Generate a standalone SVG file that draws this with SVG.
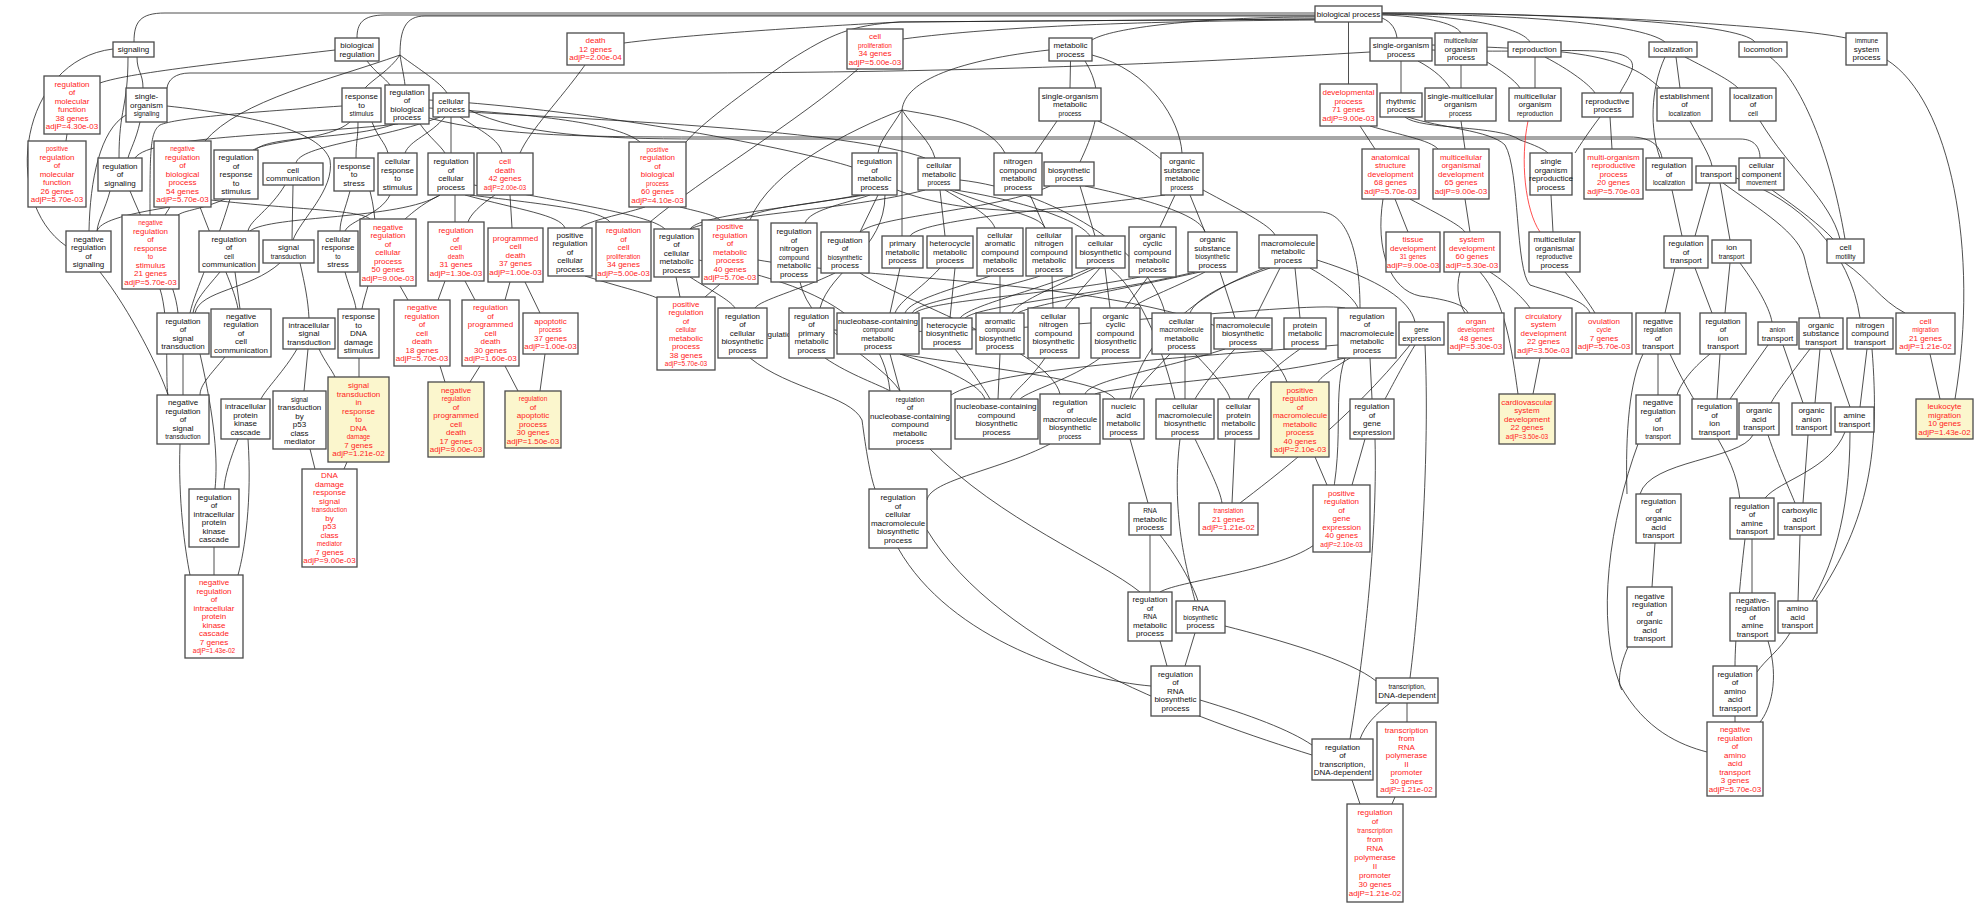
<svg xmlns="http://www.w3.org/2000/svg" width="1978" height="903" viewBox="0 0 1978 903">
<style>
.n rect{fill:#fff;stroke:#4a4a4a;stroke-width:1.3}
.y rect{fill:#fbf6cd}
text{font-family:"Liberation Sans",Arial,sans-serif;font-size:8px;text-anchor:middle;fill:#111}
.r text{fill:#f22}
.s{font-size:6.5px}
#edges path{fill:none;stroke:#222;stroke-width:0.8}
#edges path.red{stroke:#f22}
</style>
<rect width="1978" height="903" fill="#fff"/>
<text x="778" y="337">regulation</text>
<g id="edges">
<path d="M1315,13L165,13C140,13 134,22 134,42"/>
<path d="M1315,15L385,15C362,15 357,24 357,38"/>
<path d="M1315,16L425,16C405,16 400,30 400,55"/>
<path d="M400,55C390,70 372,80 365,88"/>
<path d="M400,55C402,68 404,76 405,85"/>
<path d="M400,55C420,70 440,82 447,93"/>
<path d="M400,55C330,80 240,100 205,141"/>
<path d="M1315,19L900,22C860,24 700,33 624,43"/>
<path d="M1315,20C1150,21 1000,26 903,39"/>
<path d="M1315,19L900,22C850,25 830,35 790,60C740,95 700,125 686,142"/>
<path d="M1315,17C1200,17 1110,28 1092,40"/>
<path d="M1370,52C1200,62 1000,72 700,73L190,73C175,73 168,80 167,88"/>
<path d="M1382,18C1392,22 1396,30 1397,38"/>
<path d="M1382,15C1420,16 1455,22 1461,33"/>
<path d="M1382,14C1450,15 1520,25 1530,42"/>
<path d="M1382,14C1500,14 1640,22 1665,42"/>
<path d="M1382,13C1550,13 1740,22 1755,42"/>
<path d="M1382,13C1600,13 1800,28 1846,38"/>
<path d="M1348.5,22L1348.5,84"/>
<path d="M1432,50C1560,55 1640,40 1632,70C1628,80 1622,88 1620,93"/>
<path d="M1432,45C1560,50 1620,50 1660,88"/>
<path d="M137,57C137,72 143,73 143,88"/>
<path d="M128,57C128,108 119,108 119,158"/>
<path d="M113,49C20,60 0,200 66,246"/>
<path d="M335,50C250,60 130,72 100,83"/>
<path d="M367,61C375,72 385,78 390,85"/>
<path d="M167,106C250,115 320,130 330,160C335,190 300,220 293,240"/>
<path d="M126,115C100,130 90,180 89,231"/>
<path d="M140,122C136,140 130,150 128,158"/>
<path d="M67,134L66,141"/>
<path d="M110,191C105,210 98,220 97,231"/>
<path d="M130,191C150,240 175,280 178,313"/>
<path d="M350,122C330,140 270,140 253,150"/>
<path d="M358,122C358,140 356,140 356,158"/>
<path d="M372,122C378,138 385,142 388,153"/>
<path d="M342,106C250,112 175,118 160,125C150,132 150,150 150,215"/>
<path d="M420,124C430,138 440,145 445,153"/>
<path d="M395,124C350,140 270,135 255,150"/>
<path d="M398,124C300,135 150,135 135,158"/>
<path d="M429,108C550,115 620,125 640,142"/>
<path d="M429,100C600,110 800,150 852,167"/>
<path d="M429,118C500,137 600,137 700,137L1630,137C1650,137 1660,145 1662,158"/>
<path d="M469,110C520,135 600,139 700,139L1740,139C1755,139 1760,148 1760,158"/>
<path d="M440,117C380,140 300,145 296,163"/>
<path d="M445,117C430,135 410,140 405,153"/>
<path d="M451,117L451,153"/>
<path d="M460,117C480,130 500,140 502,153"/>
<path d="M469,112C600,120 850,130 925,158"/>
<path d="M285,185C270,210 250,220 248,231"/>
<path d="M293,185L292,240"/>
<path d="M350,191C345,210 340,220 340,231"/>
<path d="M370,191C385,250 365,290 362,309"/>
<path d="M390,195C380,215 350,220 345,231"/>
<path d="M440,195C400,220 270,215 250,231"/>
<path d="M440,195C420,205 410,215 405,219"/>
<path d="M455,195L455,222"/>
<path d="M465,195C520,210 560,215 565,228"/>
<path d="M470,195C550,205 600,210 610,222"/>
<path d="M474,185C580,205 650,215 665,229"/>
<path d="M495,195C480,205 470,215 468,222"/>
<path d="M510,195L512,228"/>
<path d="M585,65C560,100 530,130 520,153"/>
<path d="M170,207C120,215 100,222 97,231"/>
<path d="M170,207L165,215"/>
<path d="M211,200C300,210 360,210 370,219"/>
<path d="M200,207C220,260 235,290 238,309"/>
<path d="M225,199C200,210 185,210 178,215"/>
<path d="M230,199C215,250 195,290 190,313"/>
<path d="M220,272C205,290 195,300 193,313"/>
<path d="M235,272L240,309"/>
<path d="M300,263C305,285 308,300 309,318"/>
<path d="M280,263C250,290 200,290 195,313"/>
<path d="M345,272C350,290 355,300 356,309"/>
<path d="M359,358L359,377"/>
<path d="M319,349C325,362 332,370 335,377"/>
<path d="M308,349L304,391"/>
<path d="M297,349C285,370 265,390 261,399"/>
<path d="M100,272C130,310 160,370 168,395"/>
<path d="M160,289C170,320 165,380 168,395"/>
<path d="M183,354L183,395"/>
<path d="M225,357C210,375 200,385 200,395"/>
<path d="M200,354C215,420 218,460 215,489"/>
<path d="M180,444C178,500 185,550 190,575"/>
<path d="M238,439C230,460 225,475 224,489"/>
<path d="M214,547L214,575"/>
<path d="M248,439C252,500 245,550 238,575"/>
<path d="M310,449L315,469"/>
<path d="M347,462L344,469"/>
<path d="M400,286L408,300"/>
<path d="M445,281L438,300"/>
<path d="M465,281L475,300"/>
<path d="M510,282L505,300"/>
<path d="M525,282L540,313"/>
<path d="M440,366L445,382"/>
<path d="M480,366L470,382"/>
<path d="M505,366L518,391"/>
<path d="M545,354L540,391"/>
<path d="M1070.5,61L1070,88"/>
<path d="M1049,50C960,60 905,80 902,110"/>
<path d="M902,110C890,130 880,140 878,153"/>
<path d="M902,110C915,130 930,140 935,158"/>
<path d="M902,110L902,236"/>
<path d="M902,110C850,130 770,170 750,220"/>
<path d="M902,110C950,118 990,125 1005,153"/>
<path d="M1085,61C1110,100 1090,140 1080,162"/>
<path d="M1092,55C1150,70 1180,120 1182,153"/>
<path d="M1057,121L1035,153"/>
<path d="M1098,121C1130,135 1150,150 1162,160"/>
<path d="M860,195C780,210 700,215 690,229"/>
<path d="M865,195C800,205 750,210 745,220"/>
<path d="M870,195C840,205 810,210 805,223"/>
<path d="M878,195L860,232"/>
<path d="M885,195C885,250 830,270 820,308"/>
<path d="M897,190C950,210 1000,212 1100,212L1320,212C1350,212 1360,260 1360,308"/>
<path d="M645,207C620,215 590,220 580,228"/>
<path d="M680,207C700,212 715,215 720,220"/>
<path d="M858,69C800,120 700,180 650,222"/>
<path d="M585,276C630,290 655,295 660,300"/>
<path d="M676,277L680,297"/>
<path d="M720,284L705,297"/>
<path d="M690,277C710,290 730,300 735,308"/>
<path d="M699,260C780,280 880,300 890,391"/>
<path d="M835,273C800,290 760,300 755,308"/>
<path d="M860,273C900,300 1050,350 1060,394"/>
<path d="M800,282C810,330 880,360 900,391"/>
<path d="M825,358C850,375 880,385 890,391"/>
<path d="M834,330C1000,340 1300,300 1345,308"/>
<path d="M758,260C900,285 1250,280 1287,382"/>
<path d="M950,190C1000,210 1040,215 1045,228"/>
<path d="M945,190C970,205 990,215 995,228"/>
<path d="M940,190L945,236"/>
<path d="M955,190C1020,200 1080,220 1090,236"/>
<path d="M960,180C1050,190 1150,250 1165,313"/>
<path d="M925,190C850,210 720,215 690,229"/>
<path d="M1030,195L1045,228"/>
<path d="M1080,186L1095,236"/>
<path d="M1085,186C1150,200 1200,215 1205,232"/>
<path d="M1050,186C1000,210 880,215 860,232"/>
<path d="M1175,195L1160,227"/>
<path d="M1190,195L1205,232"/>
<path d="M1203,190C1240,210 1270,225 1275,235"/>
<path d="M1165,195C1050,210 920,220 910,236"/>
<path d="M900,268L890,313"/>
<path d="M940,268C920,290 900,300 895,313"/>
<path d="M955,268L950,318"/>
<path d="M990,276C950,290 910,300 905,313"/>
<path d="M1000,276L1000,313"/>
<path d="M1040,276C980,295 920,300 912,313"/>
<path d="M1052,276L1053,308"/>
<path d="M1090,268C1040,290 970,305 960,318"/>
<path d="M1095,268C1060,285 1020,300 1012,313"/>
<path d="M1100,268L1065,308"/>
<path d="M1105,268L1110,308"/>
<path d="M1110,268C1150,300 1170,380 1175,399"/>
<path d="M1140,277C1050,295 930,300 915,313"/>
<path d="M1148,277L1125,308"/>
<path d="M1195,272C1100,295 980,305 965,318"/>
<path d="M1200,272C1120,290 1030,305 1018,313"/>
<path d="M1205,272C1170,290 1140,300 1133,308"/>
<path d="M1220,272L1235,318"/>
<path d="M1270,268C1220,285 1195,300 1190,313"/>
<path d="M1280,268L1255,318"/>
<path d="M1295,268L1300,318"/>
<path d="M1265,268C1180,300 1140,350 1130,399"/>
<path d="M1317,260C1380,280 1410,300 1415,322"/>
<path d="M1310,268C1340,285 1355,300 1358,308"/>
<path d="M900,354C1000,370 1100,380 1115,399"/>
<path d="M900,354C950,370 980,385 985,399"/>
<path d="M890,354L900,391"/>
<path d="M955,349C975,375 985,390 990,399"/>
<path d="M1000,354L998,399"/>
<path d="M1045,358C1030,380 1015,390 1010,399"/>
<path d="M1100,358C1070,380 1030,390 1020,399"/>
<path d="M1185,354L1185,399"/>
<path d="M1195,354C1215,375 1228,390 1230,399"/>
<path d="M1170,354C1150,375 1135,390 1132,399"/>
<path d="M1235,349C1215,370 1200,390 1195,399"/>
<path d="M1225,349C1160,370 1090,380 1085,394"/>
<path d="M1300,349C1270,370 1250,390 1248,399"/>
<path d="M1345,358C1250,380 1120,385 1095,394"/>
<path d="M1350,358C1330,370 1320,378 1318,382"/>
<path d="M1370,358L1372,399"/>
<path d="M1338,345C1150,360 990,370 951,395"/>
<path d="M1415,345C1400,370 1390,390 1385,399"/>
<path d="M1410,345C1350,420 1270,480 1240,503"/>
<path d="M1425,345C1430,450 1420,600 1410,678"/>
<path d="M1235,439L1232,503"/>
<path d="M1195,439C1210,470 1220,490 1222,503"/>
<path d="M1130,439L1148,503"/>
<path d="M1180,439C1170,520 1190,580 1195,601"/>
<path d="M1315,457L1327,485"/>
<path d="M1365,439L1352,485"/>
<path d="M1375,439C1378,550 1360,680 1350,739"/>
<path d="M1345,358C1330,400 1350,460 1320,540C1290,570 1180,580 1160,592"/>
<path d="M930,449C1000,520 1100,560 1140,592"/>
<path d="M750,358C790,390 850,395 862,420C866,450 870,475 875,489"/>
<path d="M1050,444C1000,470 930,480 927,500"/>
<path d="M1150,535L1150,592"/>
<path d="M1160,535C1180,560 1195,590 1198,601"/>
<path d="M1160,641L1167,666"/>
<path d="M1195,633L1185,666"/>
<path d="M898,548C950,640 1080,680 1151,686"/>
<path d="M1225,626C1280,640 1350,660 1376,681"/>
<path d="M1200,700C1250,715 1290,730 1312,745"/>
<path d="M1390,703C1375,715 1365,725 1360,739"/>
<path d="M1407,703L1407,722"/>
<path d="M1352,780L1360,804"/>
<path d="M1395,797L1392,804"/>
<path d="M927,530C1000,650 1200,720 1312,755"/>
<path d="M1401,61L1401,93"/>
<path d="M1418,61C1435,70 1445,80 1450,88"/>
<path d="M1461,65L1461,88"/>
<path d="M1487,62C1500,70 1515,80 1520,88"/>
<path d="M1535,57L1535,88"/>
<path d="M1545,57C1570,70 1590,85 1595,93"/>
<path d="M1360,126L1375,149"/>
<path d="M1370,126C1400,135 1430,140 1438,149"/>
<path d="M1461,121L1465,149"/>
<path d="M1405,117C1420,130 1500,125 1520,140C1535,145 1545,150 1548,153"/>
<path d="M1600,117C1590,130 1580,145 1575,153"/>
<path d="M1610,117L1612,149"/>
<path d="M1551,195L1553,232"/>
<path class="red" d="M1528,121C1520,160 1525,210 1540,232"/>
<path d="M1395,199L1408,232"/>
<path d="M1410,199C1440,215 1460,225 1465,232"/>
<path d="M1383,199C1375,250 1390,290 1420,296C1450,300 1465,305 1468,313"/>
<path d="M1465,199L1470,232"/>
<path d="M1460,272C1455,290 1460,305 1465,313"/>
<path d="M1490,272C1510,285 1525,300 1530,308"/>
<path d="M1540,358L1533,394"/>
<path d="M1480,272C1505,300 1512,350 1518,394"/>
<path d="M1408,117C1440,128 1490,130 1505,145C1520,170 1515,270 1530,285C1560,295 1585,300 1590,313"/>
<path d="M1565,272C1580,290 1590,305 1595,313"/>
<path d="M1676,57L1680,88"/>
<path d="M1685,57C1710,70 1730,80 1738,88"/>
<path d="M1665,57C1650,90 1650,130 1660,158"/>
<path d="M1690,121C1700,140 1710,155 1712,166"/>
<path d="M1760,121C1790,170 1830,200 1840,239"/>
<path d="M1770,57C1800,80 1830,150 1845,239"/>
<path d="M1772,190C1800,210 1820,225 1833,239"/>
<path d="M1672,190L1682,236"/>
<path d="M1710,183L1695,236"/>
<path d="M1720,183L1730,240"/>
<path d="M1723,183C1760,210 1800,233 1805,260C1812,290 1818,305 1820,318"/>
<path d="M1736,178C1800,200 1850,250 1860,318"/>
<path d="M1740,263C1760,290 1770,310 1772,322"/>
<path d="M1675,268L1665,313"/>
<path d="M1695,268L1712,313"/>
<path d="M1730,263L1725,313"/>
<path d="M1720,354L1717,399"/>
<path d="M1658,354L1658,395"/>
<path d="M1710,354C1690,370 1680,385 1677,395"/>
<path d="M1783,345L1803,403"/>
<path d="M1768,345L1730,399"/>
<path d="M1810,349C1790,375 1775,395 1771,403"/>
<path d="M1820,349L1815,403"/>
<path d="M1830,349L1850,407"/>
<path d="M1867,349L1860,407"/>
<path d="M1872,349C1880,450 1870,520 1815,601"/>
<path d="M1768,435C1780,470 1790,490 1795,503"/>
<path d="M1808,435L1803,503"/>
<path d="M1753,435C1740,460 1650,460 1640,494"/>
<path d="M1643,354C1630,380 1625,430 1627,494"/>
<path d="M1800,535L1798,601"/>
<path d="M1850,432C1850,520 1830,570 1812,601"/>
<path d="M1845,432C1830,470 1780,480 1765,498"/>
<path d="M1655,543L1652,587"/>
<path d="M1752,539L1752,593"/>
<path d="M1745,539C1740,580 1735,640 1735,666"/>
<path d="M1790,633C1780,650 1765,660 1757,672"/>
<path d="M1735,716L1735,722"/>
<path d="M1768,641C1780,680 1770,710 1760,722"/>
<path d="M1638,444C1610,520 1595,620 1620,685C1645,730 1680,745 1707,752"/>
<path d="M1628,647C1618,670 1618,685 1622,690"/>
<path d="M1670,354C1700,420 1735,450 1740,500"/>
<path d="M1845,263C1870,280 1880,300 1905,313"/>
<path d="M1930,354L1940,399"/>
<path d="M1887,60C1950,100 1980,250 1955,399"/>
</g>
<g id="bp" class="n"><rect x="1315" y="6" width="67" height="16"/><text><tspan x="1348.5" y="16.8">biological process</tspan></text></g>
<g id="signaling" class="n"><rect x="113" y="42" width="41" height="15"/><text><tspan x="133.5" y="52.3">signaling</tspan></text></g>
<g id="bioreg" class="n"><rect x="335" y="38" width="44" height="23"/><text><tspan x="357" y="48">biological</tspan><tspan x="357" dy="8.5">regulation</tspan></text></g>
<g id="death" class="n r"><rect x="567" y="33" width="57" height="32"/><text><tspan x="595.5" y="43.3">death</tspan><tspan x="595.5" dy="8.5">12 genes</tspan><tspan x="595.5" dy="8.5">adjP=2.00e-04</tspan></text></g>
<g id="cellprolif" class="n r"><rect x="847" y="29" width="56" height="40"/><text><tspan x="875" y="39">cell</tspan><tspan x="875" dy="8.5" class="s">proliferation</tspan><tspan x="875" dy="8.5">34 genes</tspan><tspan x="875" dy="8.5">adjP=5.00e-03</tspan></text></g>
<g id="metab" class="n"><rect x="1049" y="38" width="43" height="23"/><text><tspan x="1070.5" y="48">metabolic</tspan><tspan x="1070.5" dy="8.5">process</tspan></text></g>
<g id="sop" class="n"><rect x="1370" y="38" width="62" height="23"/><text><tspan x="1401" y="48">single-organism</tspan><tspan x="1401" dy="8.5">process</tspan></text></g>
<g id="mop" class="n"><rect x="1435" y="33" width="52" height="32"/><text><tspan x="1461" y="43.3" class="s">multicellular</tspan><tspan x="1461" dy="8.5">organism</tspan><tspan x="1461" dy="8.5">process</tspan></text></g>
<g id="repro" class="n"><rect x="1508" y="42" width="53" height="15"/><text><tspan x="1534.5" y="52.3">reproduction</tspan></text></g>
<g id="loc" class="n"><rect x="1649" y="42" width="48" height="15"/><text><tspan x="1673" y="52.3">localization</tspan></text></g>
<g id="locom" class="n"><rect x="1739" y="42" width="48" height="15"/><text><tspan x="1763" y="52.3">locomotion</tspan></text></g>
<g id="immune" class="n"><rect x="1846" y="33" width="41" height="32"/><text><tspan x="1866.5" y="43.3" class="s">immune</tspan><tspan x="1866.5" dy="8.5">system</tspan><tspan x="1866.5" dy="8.5">process</tspan></text></g>
<g id="regmf" class="n r"><rect x="44" y="76" width="56" height="58"/><text><tspan x="72" y="86.55">regulation</tspan><tspan x="72" dy="8.5">of</tspan><tspan x="72" dy="8.5">molecular</tspan><tspan x="72" dy="8.5">function</tspan><tspan x="72" dy="8.5">38 genes</tspan><tspan x="72" dy="8.5">adjP=4.30e-03</tspan></text></g>
<g id="sosig" class="n"><rect x="126" y="88" width="41" height="34"/><text><tspan x="146.5" y="99.3">single-</tspan><tspan x="146.5" dy="8.5">organism</tspan><tspan x="146.5" dy="8.5" class="s">signaling</tspan></text></g>
<g id="resp" class="n"><rect x="342" y="88" width="39" height="34"/><text><tspan x="361.5" y="99.3">response</tspan><tspan x="361.5" dy="8.5">to</tspan><tspan x="361.5" dy="8.5" class="s">stimulus</tspan></text></g>
<g id="regbp" class="n"><rect x="385" y="85" width="44" height="39"/><text><tspan x="407" y="94.55">regulation</tspan><tspan x="407" dy="8.5">of</tspan><tspan x="407" dy="8.5">biological</tspan><tspan x="407" dy="8.5">process</tspan></text></g>
<g id="cellp" class="n"><rect x="433" y="93" width="36" height="24"/><text><tspan x="451" y="103.55">cellular</tspan><tspan x="451" dy="8.5">process</tspan></text></g>
<g id="someta" class="n"><rect x="1039" y="88" width="62" height="33"/><text><tspan x="1070" y="98.8">single-organism</tspan><tspan x="1070" dy="8.5">metabolic</tspan><tspan x="1070" dy="8.5" class="s">process</tspan></text></g>
<g id="dev" class="n r"><rect x="1320" y="84" width="57" height="42"/><text><tspan x="1348.5" y="95.05">developmental</tspan><tspan x="1348.5" dy="8.5">process</tspan><tspan x="1348.5" dy="8.5">71 genes</tspan><tspan x="1348.5" dy="8.5">adjP=9.00e-03</tspan></text></g>
<g id="rhythm" class="n"><rect x="1380" y="93" width="42" height="24"/><text><tspan x="1401" y="103.55">rhythmic</tspan><tspan x="1401" dy="8.5">process</tspan></text></g>
<g id="smop" class="n"><rect x="1425" y="88" width="71" height="33"/><text><tspan x="1460.5" y="98.8">single-multicellular</tspan><tspan x="1460.5" dy="8.5">organism</tspan><tspan x="1460.5" dy="8.5" class="s">process</tspan></text></g>
<g id="mor" class="n"><rect x="1509" y="88" width="52" height="33"/><text><tspan x="1535" y="98.8">multicellular</tspan><tspan x="1535" dy="8.5">organism</tspan><tspan x="1535" dy="8.5" class="s">reproduction</tspan></text></g>
<g id="reprop" class="n"><rect x="1582" y="93" width="51" height="24"/><text><tspan x="1607.5" y="103.55">reproductive</tspan><tspan x="1607.5" dy="8.5">process</tspan></text></g>
<g id="estloc" class="n"><rect x="1657" y="88" width="55" height="33"/><text><tspan x="1684.5" y="98.8">establishment</tspan><tspan x="1684.5" dy="8.5">of</tspan><tspan x="1684.5" dy="8.5" class="s">localization</tspan></text></g>
<g id="loccell" class="n"><rect x="1730" y="88" width="46" height="33"/><text><tspan x="1753" y="98.8">localization</tspan><tspan x="1753" dy="8.5">of</tspan><tspan x="1753" dy="8.5" class="s">cell</tspan></text></g>
<g id="posregmf" class="n r"><rect x="28" y="141" width="58" height="66"/><text><tspan x="57" y="151.3" class="s">positive</tspan><tspan x="57" dy="8.5">regulation</tspan><tspan x="57" dy="8.5">of</tspan><tspan x="57" dy="8.5">molecular</tspan><tspan x="57" dy="8.5">function</tspan><tspan x="57" dy="8.5">26 genes</tspan><tspan x="57" dy="8.5">adjP=5.70e-03</tspan></text></g>
<g id="regsig" class="n"><rect x="98" y="158" width="44" height="33"/><text><tspan x="120" y="168.8">regulation</tspan><tspan x="120" dy="8.5">of</tspan><tspan x="120" dy="8.5">signaling</tspan></text></g>
<g id="negregbp" class="n r"><rect x="154" y="141" width="57" height="66"/><text><tspan x="182.5" y="151.3" class="s">negative</tspan><tspan x="182.5" dy="8.5">regulation</tspan><tspan x="182.5" dy="8.5">of</tspan><tspan x="182.5" dy="8.5">biological</tspan><tspan x="182.5" dy="8.5">process</tspan><tspan x="182.5" dy="8.5">54 genes</tspan><tspan x="182.5" dy="8.5">adjP=5.70e-03</tspan></text></g>
<g id="regresp" class="n"><rect x="214" y="150" width="44" height="49"/><text><tspan x="236" y="160.3">regulation</tspan><tspan x="236" dy="8.5">of</tspan><tspan x="236" dy="8.5">response</tspan><tspan x="236" dy="8.5">to</tspan><tspan x="236" dy="8.5">stimulus</tspan></text></g>
<g id="cellcomm" class="n"><rect x="263" y="163" width="60" height="22"/><text><tspan x="293" y="172.55">cell</tspan><tspan x="293" dy="8.5">communication</tspan></text></g>
<g id="respstress" class="n"><rect x="334" y="158" width="40" height="33"/><text><tspan x="354" y="168.8">response</tspan><tspan x="354" dy="8.5">to</tspan><tspan x="354" dy="8.5">stress</tspan></text></g>
<g id="cellresp" class="n"><rect x="378" y="153" width="39" height="42"/><text><tspan x="397.5" y="164.05">cellular</tspan><tspan x="397.5" dy="8.5">response</tspan><tspan x="397.5" dy="8.5">to</tspan><tspan x="397.5" dy="8.5">stimulus</tspan></text></g>
<g id="regcp" class="n"><rect x="428" y="153" width="46" height="42"/><text><tspan x="451" y="164.05">regulation</tspan><tspan x="451" dy="8.5">of</tspan><tspan x="451" dy="8.5">cellular</tspan><tspan x="451" dy="8.5">process</tspan></text></g>
<g id="celldeath" class="n r"><rect x="477" y="153" width="56" height="42"/><text><tspan x="505" y="164.05">cell</tspan><tspan x="505" dy="8.5">death</tspan><tspan x="505" dy="8.5">42 genes</tspan><tspan x="505" dy="8.5" class="s">adjP=2.00e-03</tspan></text></g>
<g id="posregbp" class="n r"><rect x="629" y="142" width="57" height="65"/><text><tspan x="657.5" y="151.8" class="s">positive</tspan><tspan x="657.5" dy="8.5">regulation</tspan><tspan x="657.5" dy="8.5">of</tspan><tspan x="657.5" dy="8.5">biological</tspan><tspan x="657.5" dy="8.5" class="s">process</tspan><tspan x="657.5" dy="8.5">60 genes</tspan><tspan x="657.5" dy="8.5">adjP=4.10e-03</tspan></text></g>
<g id="regmet" class="n"><rect x="852" y="153" width="45" height="42"/><text><tspan x="874.5" y="164.05">regulation</tspan><tspan x="874.5" dy="8.5">of</tspan><tspan x="874.5" dy="8.5">metabolic</tspan><tspan x="874.5" dy="8.5">process</tspan></text></g>
<g id="cellmet" class="n"><rect x="918" y="158" width="42" height="32"/><text><tspan x="939" y="168.3">cellular</tspan><tspan x="939" dy="8.5">metabolic</tspan><tspan x="939" dy="8.5" class="s">process</tspan></text></g>
<g id="ncmp" class="n"><rect x="994" y="153" width="48" height="42"/><text><tspan x="1018" y="164.05">nitrogen</tspan><tspan x="1018" dy="8.5">compound</tspan><tspan x="1018" dy="8.5">metabolic</tspan><tspan x="1018" dy="8.5">process</tspan></text></g>
<g id="biosyn" class="n"><rect x="1044" y="162" width="50" height="24"/><text><tspan x="1069" y="172.55">biosynthetic</tspan><tspan x="1069" dy="8.5">process</tspan></text></g>
<g id="osmp" class="n"><rect x="1161" y="153" width="42" height="42"/><text><tspan x="1182" y="164.05">organic</tspan><tspan x="1182" dy="8.5">substance</tspan><tspan x="1182" dy="8.5">metabolic</tspan><tspan x="1182" dy="8.5" class="s">process</tspan></text></g>
<g id="asd" class="n r"><rect x="1362" y="149" width="57" height="50"/><text><tspan x="1390.5" y="159.8">anatomical</tspan><tspan x="1390.5" dy="8.5">structure</tspan><tspan x="1390.5" dy="8.5">development</tspan><tspan x="1390.5" dy="8.5">68 genes</tspan><tspan x="1390.5" dy="8.5">adjP=5.70e-03</tspan></text></g>
<g id="mod" class="n r"><rect x="1433" y="149" width="56" height="50"/><text><tspan x="1461" y="159.8">multicellular</tspan><tspan x="1461" dy="8.5">organismal</tspan><tspan x="1461" dy="8.5">development</tspan><tspan x="1461" dy="8.5">65 genes</tspan><tspan x="1461" dy="8.5">adjP=9.00e-03</tspan></text></g>
<g id="sorp" class="n"><rect x="1530" y="153" width="42" height="42"/><text><tspan x="1551" y="164.05">single</tspan><tspan x="1551" dy="8.5">organism</tspan><tspan x="1551" dy="8.5">reproductice</tspan><tspan x="1551" dy="8.5">process</tspan></text></g>
<g id="morp" class="n r"><rect x="1584" y="149" width="59" height="50"/><text><tspan x="1613.5" y="159.8">multi-organism</tspan><tspan x="1613.5" dy="8.5">reproductive</tspan><tspan x="1613.5" dy="8.5">process</tspan><tspan x="1613.5" dy="8.5">20 genes</tspan><tspan x="1613.5" dy="8.5">adjP=5.70e-03</tspan></text></g>
<g id="regloc" class="n"><rect x="1646" y="158" width="46" height="32"/><text><tspan x="1669" y="168.3">regulation</tspan><tspan x="1669" dy="8.5">of</tspan><tspan x="1669" dy="8.5" class="s">localization</tspan></text></g>
<g id="transport" class="n"><rect x="1696" y="166" width="40" height="17"/><text><tspan x="1716" y="177.3">transport</tspan></text></g>
<g id="ccm" class="n"><rect x="1739" y="158" width="45" height="32"/><text><tspan x="1761.5" y="168.3">cellular</tspan><tspan x="1761.5" dy="8.5">component</tspan><tspan x="1761.5" dy="8.5" class="s">movement</tspan></text></g>
<g id="negregsig" class="n"><rect x="66" y="231" width="45" height="41"/><text><tspan x="88.5" y="241.55">negative</tspan><tspan x="88.5" dy="8.5">regulation</tspan><tspan x="88.5" dy="8.5">of</tspan><tspan x="88.5" dy="8.5">signaling</tspan></text></g>
<g id="negregresp" class="n r"><rect x="122" y="215" width="57" height="74"/><text><tspan x="150.5" y="225.05" class="s">negative</tspan><tspan x="150.5" dy="8.5">regulation</tspan><tspan x="150.5" dy="8.5">of</tspan><tspan x="150.5" dy="8.5">response</tspan><tspan x="150.5" dy="8.5" class="s">to</tspan><tspan x="150.5" dy="8.5">stimulus</tspan><tspan x="150.5" dy="8.5">21 genes</tspan><tspan x="150.5" dy="8.5">adjP=5.70e-03</tspan></text></g>
<g id="regcc" class="n"><rect x="199" y="231" width="60" height="41"/><text><tspan x="229" y="241.55">regulation</tspan><tspan x="229" dy="8.5">of</tspan><tspan x="229" dy="8.5" class="s">cell</tspan><tspan x="229" dy="8.5">communication</tspan></text></g>
<g id="sigtrans" class="n"><rect x="263" y="240" width="51" height="23"/><text><tspan x="288.5" y="250.05">signal</tspan><tspan x="288.5" dy="8.5" class="s">transduction</tspan></text></g>
<g id="cellrespstress" class="n"><rect x="318" y="231" width="40" height="41"/><text><tspan x="338" y="241.55">cellular</tspan><tspan x="338" dy="8.5">response</tspan><tspan x="338" dy="8.5" class="s">to</tspan><tspan x="338" dy="8.5">stress</tspan></text></g>
<g id="negregcp" class="n r"><rect x="360" y="219" width="56" height="67"/><text><tspan x="388" y="229.8">negative</tspan><tspan x="388" dy="8.5">regulation</tspan><tspan x="388" dy="8.5">of</tspan><tspan x="388" dy="8.5">cellular</tspan><tspan x="388" dy="8.5">process</tspan><tspan x="388" dy="8.5">50 genes</tspan><tspan x="388" dy="8.5">adjP=9.00e-03</tspan></text></g>
<g id="regcd" class="n r"><rect x="428" y="222" width="56" height="59"/><text><tspan x="456" y="233.05">regulation</tspan><tspan x="456" dy="8.5">of</tspan><tspan x="456" dy="8.5">cell</tspan><tspan x="456" dy="8.5" class="s">death</tspan><tspan x="456" dy="8.5">31 genes</tspan><tspan x="456" dy="8.5">adjP=1.30e-03</tspan></text></g>
<g id="pcd" class="n r"><rect x="488" y="228" width="55" height="54"/><text><tspan x="515.5" y="240.8">programmed</tspan><tspan x="515.5" dy="8.5">cell</tspan><tspan x="515.5" dy="8.5">death</tspan><tspan x="515.5" dy="8.5">37 genes</tspan><tspan x="515.5" dy="8.5">adjP=1.00e-03</tspan></text></g>
<g id="posregcp" class="n"><rect x="548" y="228" width="44" height="48"/><text><tspan x="570" y="237.8">positive</tspan><tspan x="570" dy="8.5">regulation</tspan><tspan x="570" dy="8.5">of</tspan><tspan x="570" dy="8.5">cellular</tspan><tspan x="570" dy="8.5">process</tspan></text></g>
<g id="regcprolif" class="n r"><rect x="596" y="222" width="55" height="59"/><text><tspan x="623.5" y="233.05">regulation</tspan><tspan x="623.5" dy="8.5">of</tspan><tspan x="623.5" dy="8.5">cell</tspan><tspan x="623.5" dy="8.5" class="s">proliferation</tspan><tspan x="623.5" dy="8.5">34 genes</tspan><tspan x="623.5" dy="8.5">adjP=5.00e-03</tspan></text></g>
<g id="regcmp" class="n"><rect x="654" y="229" width="45" height="48"/><text><tspan x="676.5" y="238.8">regulation</tspan><tspan x="676.5" dy="8.5">of</tspan><tspan x="676.5" dy="8.5">cellular</tspan><tspan x="676.5" dy="8.5">metabolic</tspan><tspan x="676.5" dy="8.5">process</tspan></text></g>
<g id="posregmp" class="n r"><rect x="702" y="220" width="56" height="64"/><text><tspan x="730" y="229.3">positive</tspan><tspan x="730" dy="8.5">regulation</tspan><tspan x="730" dy="8.5">of</tspan><tspan x="730" dy="8.5">metabolic</tspan><tspan x="730" dy="8.5">process</tspan><tspan x="730" dy="8.5">40 genes</tspan><tspan x="730" dy="8.5">adjP=5.70e-03</tspan></text></g>
<g id="regncmp" class="n"><rect x="771" y="223" width="46" height="59"/><text><tspan x="794" y="234.05">regulation</tspan><tspan x="794" dy="8.5">of</tspan><tspan x="794" dy="8.5">nitrogen</tspan><tspan x="794" dy="8.5" class="s">compound</tspan><tspan x="794" dy="8.5">metabolic</tspan><tspan x="794" dy="8.5">process</tspan></text></g>
<g id="regbiosyn" class="n"><rect x="821" y="232" width="48" height="41"/><text><tspan x="845" y="242.55">regulation</tspan><tspan x="845" dy="8.5">of</tspan><tspan x="845" dy="8.5" class="s">biosynthetic</tspan><tspan x="845" dy="8.5">process</tspan></text></g>
<g id="primmet" class="n"><rect x="882" y="236" width="41" height="32"/><text><tspan x="902.5" y="246.3">primary</tspan><tspan x="902.5" dy="8.5">metabolic</tspan><tspan x="902.5" dy="8.5">process</tspan></text></g>
<g id="hetmet" class="n"><rect x="927" y="236" width="46" height="32"/><text><tspan x="950" y="246.3">heterocycle</tspan><tspan x="950" dy="8.5">metabolic</tspan><tspan x="950" dy="8.5">process</tspan></text></g>
<g id="camp" class="n"><rect x="977" y="228" width="46" height="48"/><text><tspan x="1000" y="237.8">cellular</tspan><tspan x="1000" dy="8.5">aromatic</tspan><tspan x="1000" dy="8.5">compound</tspan><tspan x="1000" dy="8.5">metabolic</tspan><tspan x="1000" dy="8.5">process</tspan></text></g>
<g id="cncmp" class="n"><rect x="1026" y="228" width="46" height="48"/><text><tspan x="1049" y="237.8">cellular</tspan><tspan x="1049" dy="8.5">nitrogen</tspan><tspan x="1049" dy="8.5">compound</tspan><tspan x="1049" dy="8.5">metabolic</tspan><tspan x="1049" dy="8.5">process</tspan></text></g>
<g id="cbp" class="n"><rect x="1076" y="236" width="49" height="32"/><text><tspan x="1100.5" y="246.3">cellular</tspan><tspan x="1100.5" dy="8.5">biosynthetic</tspan><tspan x="1100.5" dy="8.5">process</tspan></text></g>
<g id="occmp" class="n"><rect x="1129" y="227" width="47" height="50"/><text><tspan x="1152.5" y="237.8">organic</tspan><tspan x="1152.5" dy="8.5">cyclic</tspan><tspan x="1152.5" dy="8.5">compound</tspan><tspan x="1152.5" dy="8.5">metabolic</tspan><tspan x="1152.5" dy="8.5">process</tspan></text></g>
<g id="osbp" class="n"><rect x="1188" y="232" width="49" height="40"/><text><tspan x="1212.5" y="242.05">organic</tspan><tspan x="1212.5" dy="8.5">substance</tspan><tspan x="1212.5" dy="8.5" class="s">biosynthetic</tspan><tspan x="1212.5" dy="8.5">process</tspan></text></g>
<g id="mmp" class="n"><rect x="1259" y="235" width="58" height="33"/><text><tspan x="1288" y="245.8">macromolecule</tspan><tspan x="1288" dy="8.5">metabolic</tspan><tspan x="1288" dy="8.5">process</tspan></text></g>
<g id="tissdev" class="n r"><rect x="1386" y="232" width="54" height="40"/><text><tspan x="1413" y="242.05">tissue</tspan><tspan x="1413" dy="8.5">development</tspan><tspan x="1413" dy="8.5" class="s">31 genes</tspan><tspan x="1413" dy="8.5">adjP=9.00e-03</tspan></text></g>
<g id="sysdev" class="n r"><rect x="1444" y="232" width="56" height="40"/><text><tspan x="1472" y="242.05">system</tspan><tspan x="1472" dy="8.5">development</tspan><tspan x="1472" dy="8.5">60 genes</tspan><tspan x="1472" dy="8.5">adjP=5.30e-03</tspan></text></g>
<g id="morep" class="n"><rect x="1529" y="232" width="51" height="40"/><text><tspan x="1554.5" y="242.05">multicellular</tspan><tspan x="1554.5" dy="8.5">organismal</tspan><tspan x="1554.5" dy="8.5" class="s">reproductive</tspan><tspan x="1554.5" dy="8.5">process</tspan></text></g>
<g id="regtrans" class="n"><rect x="1664" y="236" width="44" height="32"/><text><tspan x="1686" y="246.3">regulation</tspan><tspan x="1686" dy="8.5">of</tspan><tspan x="1686" dy="8.5">transport</tspan></text></g>
<g id="iontrans" class="n"><rect x="1712" y="240" width="39" height="23"/><text><tspan x="1731.5" y="250.05">ion</tspan><tspan x="1731.5" dy="8.5" class="s">transport</tspan></text></g>
<g id="cellmot" class="n"><rect x="1827" y="239" width="37" height="24"/><text><tspan x="1845.5" y="250.05">cell</tspan><tspan x="1845.5" dy="8.5" class="s">motility</tspan></text></g>
<g id="regst" class="n"><rect x="157" y="313" width="52" height="41"/><text><tspan x="183" y="323.55">regulation</tspan><tspan x="183" dy="8.5">of</tspan><tspan x="183" dy="8.5">signal</tspan><tspan x="183" dy="8.5">transduction</tspan></text></g>
<g id="negregcc" class="n"><rect x="211" y="309" width="60" height="48"/><text><tspan x="241" y="318.8">negative</tspan><tspan x="241" dy="8.5">regulation</tspan><tspan x="241" dy="8.5">of</tspan><tspan x="241" dy="8.5">cell</tspan><tspan x="241" dy="8.5">communication</tspan></text></g>
<g id="intrasig" class="n"><rect x="283" y="318" width="52" height="31"/><text><tspan x="309" y="327.8">intracellular</tspan><tspan x="309" dy="8.5">signal</tspan><tspan x="309" dy="8.5">transduction</tspan></text></g>
<g id="respdna" class="n"><rect x="338" y="309" width="41" height="49"/><text><tspan x="358.5" y="319.3">response</tspan><tspan x="358.5" dy="8.5">to</tspan><tspan x="358.5" dy="8.5">DNA</tspan><tspan x="358.5" dy="8.5">damage</tspan><tspan x="358.5" dy="8.5">stimulus</tspan></text></g>
<g id="negregcd" class="n r"><rect x="394" y="300" width="56" height="66"/><text><tspan x="422" y="310.3">negative</tspan><tspan x="422" dy="8.5">regulation</tspan><tspan x="422" dy="8.5">of</tspan><tspan x="422" dy="8.5">cell</tspan><tspan x="422" dy="8.5">death</tspan><tspan x="422" dy="8.5">18 genes</tspan><tspan x="422" dy="8.5">adjP=5.70e-03</tspan></text></g>
<g id="regpcd" class="n r"><rect x="462" y="300" width="57" height="66"/><text><tspan x="490.5" y="310.3">regulation</tspan><tspan x="490.5" dy="8.5">of</tspan><tspan x="490.5" dy="8.5">programmed</tspan><tspan x="490.5" dy="8.5">cell</tspan><tspan x="490.5" dy="8.5">death</tspan><tspan x="490.5" dy="8.5">30 genes</tspan><tspan x="490.5" dy="8.5">adjP=1.60e-03</tspan></text></g>
<g id="apop" class="n r"><rect x="523" y="313" width="55" height="41"/><text><tspan x="550.5" y="323.55">apoptotic</tspan><tspan x="550.5" dy="8.5" class="s">process</tspan><tspan x="550.5" dy="8.5">37 genes</tspan><tspan x="550.5" dy="8.5">adjP=1.00e-03</tspan></text></g>
<g id="posregcmp" class="n r"><rect x="657" y="297" width="58" height="73"/><text><tspan x="686" y="306.55">positive</tspan><tspan x="686" dy="8.5">regulation</tspan><tspan x="686" dy="8.5">of</tspan><tspan x="686" dy="8.5" class="s">cellular</tspan><tspan x="686" dy="8.5">metabolic</tspan><tspan x="686" dy="8.5">process</tspan><tspan x="686" dy="8.5">38 genes</tspan><tspan x="686" dy="8.5" class="s">adjP=5.70e-03</tspan></text></g>
<g id="regcbp" class="n"><rect x="718" y="308" width="49" height="50"/><text><tspan x="742.5" y="318.8">regulation</tspan><tspan x="742.5" dy="8.5">of</tspan><tspan x="742.5" dy="8.5">cellular</tspan><tspan x="742.5" dy="8.5">biosynthetic</tspan><tspan x="742.5" dy="8.5">process</tspan></text></g>
<g id="regpmp" class="n"><rect x="789" y="308" width="45" height="50"/><text><tspan x="811.5" y="318.8">regulation</tspan><tspan x="811.5" dy="8.5">of</tspan><tspan x="811.5" dy="8.5">primary</tspan><tspan x="811.5" dy="8.5">metabolic</tspan><tspan x="811.5" dy="8.5">process</tspan></text></g>
<g id="ncmetab" class="n"><rect x="837" y="313" width="82" height="41"/><text><tspan x="878" y="323.55">nucleobase-containing</tspan><tspan x="878" dy="8.5" class="s">compound</tspan><tspan x="878" dy="8.5">metabolic</tspan><tspan x="878" dy="8.5">process</tspan></text></g>
<g id="hetbio" class="n"><rect x="922" y="318" width="50" height="31"/><text><tspan x="947" y="327.8">heterocycle</tspan><tspan x="947" dy="8.5">biosynthetic</tspan><tspan x="947" dy="8.5">process</tspan></text></g>
<g id="acbp" class="n"><rect x="976" y="313" width="48" height="41"/><text><tspan x="1000" y="323.55">aromatic</tspan><tspan x="1000" dy="8.5" class="s">compound</tspan><tspan x="1000" dy="8.5">biosynthetic</tspan><tspan x="1000" dy="8.5">process</tspan></text></g>
<g id="cncbp" class="n"><rect x="1028" y="308" width="51" height="50"/><text><tspan x="1053.5" y="318.8">cellular</tspan><tspan x="1053.5" dy="8.5">nitrogen</tspan><tspan x="1053.5" dy="8.5">compound</tspan><tspan x="1053.5" dy="8.5">biosynthetic</tspan><tspan x="1053.5" dy="8.5">process</tspan></text></g>
<g id="occbp" class="n"><rect x="1091" y="308" width="49" height="50"/><text><tspan x="1115.5" y="318.8">organic</tspan><tspan x="1115.5" dy="8.5">cyclic</tspan><tspan x="1115.5" dy="8.5">compound</tspan><tspan x="1115.5" dy="8.5">biosynthetic</tspan><tspan x="1115.5" dy="8.5">process</tspan></text></g>
<g id="cmmp" class="n"><rect x="1152" y="313" width="59" height="41"/><text><tspan x="1181.5" y="323.55">cellular</tspan><tspan x="1181.5" dy="8.5" class="s">macromolecule</tspan><tspan x="1181.5" dy="8.5">metabolic</tspan><tspan x="1181.5" dy="8.5">process</tspan></text></g>
<g id="mbp" class="n"><rect x="1214" y="318" width="58" height="31"/><text><tspan x="1243" y="327.8">macromolecule</tspan><tspan x="1243" dy="8.5">biosynthetic</tspan><tspan x="1243" dy="8.5">process</tspan></text></g>
<g id="protmet" class="n"><rect x="1284" y="318" width="42" height="31"/><text><tspan x="1305" y="327.8">protein</tspan><tspan x="1305" dy="8.5">metabolic</tspan><tspan x="1305" dy="8.5">process</tspan></text></g>
<g id="regmmp" class="n"><rect x="1338" y="308" width="58" height="50"/><text><tspan x="1367" y="318.8">regulation</tspan><tspan x="1367" dy="8.5">of</tspan><tspan x="1367" dy="8.5">macromolecule</tspan><tspan x="1367" dy="8.5">metabolic</tspan><tspan x="1367" dy="8.5">process</tspan></text></g>
<g id="geneexp" class="n"><rect x="1399" y="322" width="45" height="23"/><text><tspan x="1421.5" y="332.05" class="s">gene</tspan><tspan x="1421.5" dy="8.5">expression</tspan></text></g>
<g id="organdev" class="n r"><rect x="1448" y="313" width="56" height="41"/><text><tspan x="1476" y="323.55">organ</tspan><tspan x="1476" dy="8.5" class="s">development</tspan><tspan x="1476" dy="8.5">48 genes</tspan><tspan x="1476" dy="8.5">adjP=5.30e-03</tspan></text></g>
<g id="circdev" class="n r"><rect x="1515" y="308" width="57" height="50"/><text><tspan x="1543.5" y="318.8">circulatory</tspan><tspan x="1543.5" dy="8.5">system</tspan><tspan x="1543.5" dy="8.5">development</tspan><tspan x="1543.5" dy="8.5">22 genes</tspan><tspan x="1543.5" dy="8.5">adjP=3.50e-03</tspan></text></g>
<g id="ovul" class="n r"><rect x="1576" y="313" width="56" height="41"/><text><tspan x="1604" y="323.55">ovulation</tspan><tspan x="1604" dy="8.5" class="s">cycle</tspan><tspan x="1604" dy="8.5">7 genes</tspan><tspan x="1604" dy="8.5">adjP=5.70e-03</tspan></text></g>
<g id="negregtrans" class="n"><rect x="1636" y="313" width="44" height="41"/><text><tspan x="1658" y="323.55">negative</tspan><tspan x="1658" dy="8.5" class="s">regulation</tspan><tspan x="1658" dy="8.5">of</tspan><tspan x="1658" dy="8.5">transport</tspan></text></g>
<g id="regiontrans1" class="n"><rect x="1700" y="313" width="46" height="41"/><text><tspan x="1723" y="323.55">regulation</tspan><tspan x="1723" dy="8.5">of</tspan><tspan x="1723" dy="8.5">ion</tspan><tspan x="1723" dy="8.5">transport</tspan></text></g>
<g id="aniontrans" class="n"><rect x="1758" y="322" width="39" height="23"/><text><tspan x="1777.5" y="332.05" class="s">anion</tspan><tspan x="1777.5" dy="8.5">transport</tspan></text></g>
<g id="ostrans" class="n"><rect x="1799" y="318" width="44" height="31"/><text><tspan x="1821" y="327.8">organic</tspan><tspan x="1821" dy="8.5">substance</tspan><tspan x="1821" dy="8.5">transport</tspan></text></g>
<g id="nctrans" class="n"><rect x="1847" y="318" width="46" height="31"/><text><tspan x="1870" y="327.8">nitrogen</tspan><tspan x="1870" dy="8.5">compound</tspan><tspan x="1870" dy="8.5">transport</tspan></text></g>
<g id="cellmig" class="n r"><rect x="1896" y="313" width="59" height="41"/><text><tspan x="1925.5" y="323.55">cell</tspan><tspan x="1925.5" dy="8.5" class="s">migration</tspan><tspan x="1925.5" dy="8.5">21 genes</tspan><tspan x="1925.5" dy="8.5">adjP=1.21e-02</tspan></text></g>
<g id="negregst" class="n"><rect x="157" y="395" width="52" height="49"/><text><tspan x="183" y="405.3">negative</tspan><tspan x="183" dy="8.5">regulation</tspan><tspan x="183" dy="8.5">of</tspan><tspan x="183" dy="8.5">signal</tspan><tspan x="183" dy="8.5" class="s">transduction</tspan></text></g>
<g id="ipkc" class="n"><rect x="221" y="399" width="49" height="40"/><text><tspan x="245.5" y="409.05">intracellular</tspan><tspan x="245.5" dy="8.5">protein</tspan><tspan x="245.5" dy="8.5">kinase</tspan><tspan x="245.5" dy="8.5">cascade</tspan></text></g>
<g id="stp53" class="n"><rect x="273" y="391" width="53" height="58"/><text><tspan x="299.5" y="401.55" class="s">signal</tspan><tspan x="299.5" dy="8.5">transduction</tspan><tspan x="299.5" dy="8.5">by</tspan><tspan x="299.5" dy="8.5">p53</tspan><tspan x="299.5" dy="8.5">class</tspan><tspan x="299.5" dy="8.5">mediator</tspan></text></g>
<g id="stdna" class="n r y"><rect x="328" y="377" width="61" height="85"/><text><tspan x="358.5" y="388.3">signal</tspan><tspan x="358.5" dy="8.5">transduction</tspan><tspan x="358.5" dy="8.5">in</tspan><tspan x="358.5" dy="8.5">response</tspan><tspan x="358.5" dy="8.5">to</tspan><tspan x="358.5" dy="8.5">DNA</tspan><tspan x="358.5" dy="8.5" class="s">damage</tspan><tspan x="358.5" dy="8.5">7 genes</tspan><tspan x="358.5" dy="8.5">adjP=1.21e-02</tspan></text></g>
<g id="negregpcd" class="n r y"><rect x="428" y="382" width="56" height="75"/><text><tspan x="456" y="392.55">negative</tspan><tspan x="456" dy="8.5" class="s">regulation</tspan><tspan x="456" dy="8.5">of</tspan><tspan x="456" dy="8.5">programmed</tspan><tspan x="456" dy="8.5">cell</tspan><tspan x="456" dy="8.5">death</tspan><tspan x="456" dy="8.5">17 genes</tspan><tspan x="456" dy="8.5">adjP=9.00e-03</tspan></text></g>
<g id="regapop" class="n r y"><rect x="505" y="391" width="56" height="57"/><text><tspan x="533" y="401.05" class="s">regulation</tspan><tspan x="533" dy="8.5">of</tspan><tspan x="533" dy="8.5">apoptotic</tspan><tspan x="533" dy="8.5">process</tspan><tspan x="533" dy="8.5">30 genes</tspan><tspan x="533" dy="8.5">adjP=1.50e-03</tspan></text></g>
<g id="regncmp2" class="n"><rect x="869" y="391" width="82" height="58"/><text><tspan x="910" y="401.55" class="s">regulation</tspan><tspan x="910" dy="8.5">of</tspan><tspan x="910" dy="8.5">nucleobase-containing</tspan><tspan x="910" dy="8.5">compound</tspan><tspan x="910" dy="8.5">metabolic</tspan><tspan x="910" dy="8.5">process</tspan></text></g>
<g id="ncbp" class="n"><rect x="955" y="399" width="83" height="40"/><text><tspan x="996.5" y="409.05">nucleobase-containing</tspan><tspan x="996.5" dy="8.5">compound</tspan><tspan x="996.5" dy="8.5">biosynthetic</tspan><tspan x="996.5" dy="8.5">process</tspan></text></g>
<g id="regmbp" class="n"><rect x="1040" y="394" width="60" height="50"/><text><tspan x="1070" y="404.8">regulation</tspan><tspan x="1070" dy="8.5">of</tspan><tspan x="1070" dy="8.5">macromolecule</tspan><tspan x="1070" dy="8.5">biosynthetic</tspan><tspan x="1070" dy="8.5" class="s">process</tspan></text></g>
<g id="nam" class="n"><rect x="1103" y="399" width="41" height="40"/><text><tspan x="1123.5" y="409.05">nucleic</tspan><tspan x="1123.5" dy="8.5">acid</tspan><tspan x="1123.5" dy="8.5">metabolic</tspan><tspan x="1123.5" dy="8.5">process</tspan></text></g>
<g id="cmbp" class="n"><rect x="1156" y="399" width="58" height="40"/><text><tspan x="1185" y="409.05">cellular</tspan><tspan x="1185" dy="8.5">macromolecule</tspan><tspan x="1185" dy="8.5">biosynthetic</tspan><tspan x="1185" dy="8.5">process</tspan></text></g>
<g id="cpmp" class="n"><rect x="1218" y="399" width="41" height="40"/><text><tspan x="1238.5" y="409.05">cellular</tspan><tspan x="1238.5" dy="8.5">protein</tspan><tspan x="1238.5" dy="8.5">metabolic</tspan><tspan x="1238.5" dy="8.5">process</tspan></text></g>
<g id="posregmmp" class="n r y"><rect x="1271" y="382" width="58" height="75"/><text><tspan x="1300" y="392.55">positive</tspan><tspan x="1300" dy="8.5">regulation</tspan><tspan x="1300" dy="8.5">of</tspan><tspan x="1300" dy="8.5">macromolecule</tspan><tspan x="1300" dy="8.5">metabolic</tspan><tspan x="1300" dy="8.5">process</tspan><tspan x="1300" dy="8.5">40 genes</tspan><tspan x="1300" dy="8.5">adjP=2.10e-03</tspan></text></g>
<g id="reggeneexp" class="n"><rect x="1350" y="399" width="44" height="40"/><text><tspan x="1372" y="409.05">regulation</tspan><tspan x="1372" dy="8.5">of</tspan><tspan x="1372" dy="8.5">gene</tspan><tspan x="1372" dy="8.5">expression</tspan></text></g>
<g id="cvsd" class="n r y"><rect x="1499" y="394" width="56" height="50"/><text><tspan x="1527" y="404.8">cardiovascular</tspan><tspan x="1527" dy="8.5">system</tspan><tspan x="1527" dy="8.5">development</tspan><tspan x="1527" dy="8.5">22 genes</tspan><tspan x="1527" dy="8.5" class="s">adjP=3.50e-03</tspan></text></g>
<g id="negregion" class="n"><rect x="1636" y="395" width="44" height="49"/><text><tspan x="1658" y="405.3">negative</tspan><tspan x="1658" dy="8.5">regulation</tspan><tspan x="1658" dy="8.5">of</tspan><tspan x="1658" dy="8.5">ion</tspan><tspan x="1658" dy="8.5" class="s">transport</tspan></text></g>
<g id="regiontrans2" class="n"><rect x="1692" y="399" width="45" height="40"/><text><tspan x="1714.5" y="409.05">regulation</tspan><tspan x="1714.5" dy="8.5">of</tspan><tspan x="1714.5" dy="8.5">ion</tspan><tspan x="1714.5" dy="8.5">transport</tspan></text></g>
<g id="orgacid" class="n"><rect x="1739" y="403" width="40" height="32"/><text><tspan x="1759" y="413.3">organic</tspan><tspan x="1759" dy="8.5">acid</tspan><tspan x="1759" dy="8.5">transport</tspan></text></g>
<g id="organ" class="n"><rect x="1792" y="403" width="39" height="32"/><text><tspan x="1811.5" y="413.3">organic</tspan><tspan x="1811.5" dy="8.5">anion</tspan><tspan x="1811.5" dy="8.5">transport</tspan></text></g>
<g id="amine" class="n"><rect x="1835" y="407" width="39" height="25"/><text><tspan x="1854.5" y="418.05">amine</tspan><tspan x="1854.5" dy="8.5">transport</tspan></text></g>
<g id="leuk" class="n r y"><rect x="1916" y="399" width="57" height="40"/><text><tspan x="1944.5" y="409.05">leukocyte</tspan><tspan x="1944.5" dy="8.5">migration</tspan><tspan x="1944.5" dy="8.5">10 genes</tspan><tspan x="1944.5" dy="8.5">adjP=1.43e-02</tspan></text></g>
<g id="dnadamp53" class="n r"><rect x="302" y="469" width="55" height="98"/><text><tspan x="329.5" y="478.3">DNA</tspan><tspan x="329.5" dy="8.5">damage</tspan><tspan x="329.5" dy="8.5">response</tspan><tspan x="329.5" dy="8.5">signal</tspan><tspan x="329.5" dy="8.5" class="s">transduction</tspan><tspan x="329.5" dy="8.5">by</tspan><tspan x="329.5" dy="8.5">p53</tspan><tspan x="329.5" dy="8.5">class</tspan><tspan x="329.5" dy="8.5" class="s">mediator</tspan><tspan x="329.5" dy="8.5">7 genes</tspan><tspan x="329.5" dy="8.5">adjP=9.00e-03</tspan></text></g>
<g id="regipkc" class="n"><rect x="189" y="489" width="50" height="58"/><text><tspan x="214" y="499.55">regulation</tspan><tspan x="214" dy="8.5">of</tspan><tspan x="214" dy="8.5">intracellular</tspan><tspan x="214" dy="8.5">protein</tspan><tspan x="214" dy="8.5">kinase</tspan><tspan x="214" dy="8.5">cascade</tspan></text></g>
<g id="regcmbp" class="n"><rect x="869" y="489" width="58" height="59"/><text><tspan x="898" y="500.05">regulation</tspan><tspan x="898" dy="8.5">of</tspan><tspan x="898" dy="8.5">cellular</tspan><tspan x="898" dy="8.5">macromolecule</tspan><tspan x="898" dy="8.5">biosynthetic</tspan><tspan x="898" dy="8.5">process</tspan></text></g>
<g id="rnamet" class="n"><rect x="1129" y="503" width="42" height="32"/><text><tspan x="1150" y="513.3" class="s">RNA</tspan><tspan x="1150" dy="8.5">metabolic</tspan><tspan x="1150" dy="8.5">process</tspan></text></g>
<g id="translation" class="n r"><rect x="1199" y="503" width="59" height="32"/><text><tspan x="1228.5" y="513.3" class="s">translation</tspan><tspan x="1228.5" dy="8.5">21 genes</tspan><tspan x="1228.5" dy="8.5">adjP=1.21e-02</tspan></text></g>
<g id="posreggene" class="n r"><rect x="1313" y="485" width="57" height="67"/><text><tspan x="1341.5" y="495.8">positive</tspan><tspan x="1341.5" dy="8.5">regulation</tspan><tspan x="1341.5" dy="8.5">of</tspan><tspan x="1341.5" dy="8.5">gene</tspan><tspan x="1341.5" dy="8.5">expression</tspan><tspan x="1341.5" dy="8.5">40 genes</tspan><tspan x="1341.5" dy="8.5" class="s">adjP=2.10e-03</tspan></text></g>
<g id="regoat" class="n"><rect x="1636" y="494" width="45" height="49"/><text><tspan x="1658.5" y="504.3">regulation</tspan><tspan x="1658.5" dy="8.5">of</tspan><tspan x="1658.5" dy="8.5">organic</tspan><tspan x="1658.5" dy="8.5">acid</tspan><tspan x="1658.5" dy="8.5">transport</tspan></text></g>
<g id="regamine" class="n"><rect x="1730" y="498" width="44" height="41"/><text><tspan x="1752" y="508.55">regulation</tspan><tspan x="1752" dy="8.5">of</tspan><tspan x="1752" dy="8.5">amine</tspan><tspan x="1752" dy="8.5">transport</tspan></text></g>
<g id="carbox" class="n"><rect x="1778" y="503" width="43" height="32"/><text><tspan x="1799.5" y="513.3">carboxylic</tspan><tspan x="1799.5" dy="8.5">acid</tspan><tspan x="1799.5" dy="8.5">transport</tspan></text></g>
<g id="negregipkc" class="n r"><rect x="185" y="575" width="58" height="83"/><text><tspan x="214" y="585.3">negative</tspan><tspan x="214" dy="8.5">regulation</tspan><tspan x="214" dy="8.5">of</tspan><tspan x="214" dy="8.5">intracellular</tspan><tspan x="214" dy="8.5">protein</tspan><tspan x="214" dy="8.5">kinase</tspan><tspan x="214" dy="8.5">cascade</tspan><tspan x="214" dy="8.5">7 genes</tspan><tspan x="214" dy="8.5" class="s">adjP=1.43e-02</tspan></text></g>
<g id="regrnamet" class="n"><rect x="1128" y="592" width="44" height="49"/><text><tspan x="1150" y="602.3">regulation</tspan><tspan x="1150" dy="8.5">of</tspan><tspan x="1150" dy="8.5" class="s">RNA</tspan><tspan x="1150" dy="8.5">metabolic</tspan><tspan x="1150" dy="8.5">process</tspan></text></g>
<g id="rnabio" class="n"><rect x="1176" y="601" width="49" height="32"/><text><tspan x="1200.5" y="611.3">RNA</tspan><tspan x="1200.5" dy="8.5" class="s">biosynthetic</tspan><tspan x="1200.5" dy="8.5">process</tspan></text></g>
<g id="negregoat" class="n"><rect x="1627" y="587" width="45" height="60"/><text><tspan x="1649.5" y="598.55">negative</tspan><tspan x="1649.5" dy="8.5">regulation</tspan><tspan x="1649.5" dy="8.5">of</tspan><tspan x="1649.5" dy="8.5">organic</tspan><tspan x="1649.5" dy="8.5">acid</tspan><tspan x="1649.5" dy="8.5">transport</tspan></text></g>
<g id="negregamine" class="n"><rect x="1730" y="593" width="45" height="48"/><text><tspan x="1752.5" y="602.8">negative-</tspan><tspan x="1752.5" dy="8.5">regulation</tspan><tspan x="1752.5" dy="8.5">of</tspan><tspan x="1752.5" dy="8.5">amine</tspan><tspan x="1752.5" dy="8.5">transport</tspan></text></g>
<g id="aat" class="n"><rect x="1778" y="601" width="39" height="32"/><text><tspan x="1797.5" y="611.3">amino</tspan><tspan x="1797.5" dy="8.5">acid</tspan><tspan x="1797.5" dy="8.5">transport</tspan></text></g>
<g id="regrnabio" class="n"><rect x="1151" y="666" width="49" height="50"/><text><tspan x="1175.5" y="676.8">regulation</tspan><tspan x="1175.5" dy="8.5">of</tspan><tspan x="1175.5" dy="8.5">RNA</tspan><tspan x="1175.5" dy="8.5">biosynthetic</tspan><tspan x="1175.5" dy="8.5">process</tspan></text></g>
<g id="transdna" class="n"><rect x="1376" y="678" width="62" height="25"/><text><tspan x="1407" y="689.05" class="s">transcription,</tspan><tspan x="1407" dy="8.5">DNA-dependent</tspan></text></g>
<g id="regaat" class="n"><rect x="1713" y="666" width="44" height="50"/><text><tspan x="1735" y="676.8">regulation</tspan><tspan x="1735" dy="8.5">of</tspan><tspan x="1735" dy="8.5">amino</tspan><tspan x="1735" dy="8.5">acid</tspan><tspan x="1735" dy="8.5">transport</tspan></text></g>
<g id="regtransdna" class="n"><rect x="1312" y="739" width="61" height="41"/><text><tspan x="1342.5" y="749.55">regulation</tspan><tspan x="1342.5" dy="8.5">of</tspan><tspan x="1342.5" dy="8.5">transcription,</tspan><tspan x="1342.5" dy="8.5">DNA-dependent</tspan></text></g>
<g id="trpol2" class="n r"><rect x="1377" y="722" width="59" height="75"/><text><tspan x="1406.5" y="732.55">transcription</tspan><tspan x="1406.5" dy="8.5">from</tspan><tspan x="1406.5" dy="8.5">RNA</tspan><tspan x="1406.5" dy="8.5">polymerase</tspan><tspan x="1406.5" dy="8.5">II</tspan><tspan x="1406.5" dy="8.5">promoter</tspan><tspan x="1406.5" dy="8.5">30 genes</tspan><tspan x="1406.5" dy="8.5">adjP=1.21e-02</tspan></text></g>
<g id="negregaat" class="n r"><rect x="1707" y="722" width="56" height="74"/><text><tspan x="1735" y="732.05">negative</tspan><tspan x="1735" dy="8.5">regulation</tspan><tspan x="1735" dy="8.5">of</tspan><tspan x="1735" dy="8.5">amino</tspan><tspan x="1735" dy="8.5">acid</tspan><tspan x="1735" dy="8.5">transport</tspan><tspan x="1735" dy="8.5">3 genes</tspan><tspan x="1735" dy="8.5">adjP=5.70e-03</tspan></text></g>
<g id="regtrpol2" class="n r"><rect x="1347" y="804" width="56" height="98"/><text><tspan x="1375" y="815.3">regulation</tspan><tspan x="1375" dy="9">of</tspan><tspan x="1375" dy="9" class="s">transcription</tspan><tspan x="1375" dy="9">from</tspan><tspan x="1375" dy="9">RNA</tspan><tspan x="1375" dy="9">polymerase</tspan><tspan x="1375" dy="9">II</tspan><tspan x="1375" dy="9">promoter</tspan><tspan x="1375" dy="9">30 genes</tspan><tspan x="1375" dy="9">adjP=1.21e-02</tspan></text></g>
</svg>
